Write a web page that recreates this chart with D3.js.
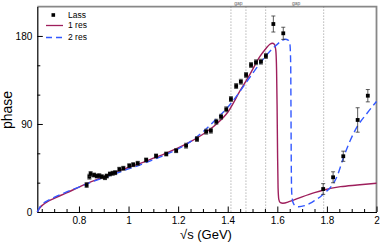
<!DOCTYPE html>
<html>
<head>
<meta charset="utf-8">
<script src="https://cdn.jsdelivr.net/npm/d3@7"></script>
<style>
  body { margin: 0; background: #fff; }
  text { font-family: "Liberation Sans", Arial, sans-serif; }
</style>
</head>
<body>
<div id="chart"></div>
<script>
// Lass data
let lassX = [0.831, 0.842, 0.847, 0.861, 0.872, 0.882, 0.892, 0.905, 0.912, 0.925, 0.936, 0.946,
             0.963, 0.979, 1.003, 1.019, 1.037, 1.071, 1.111, 1.152, 1.192, 1.232, 1.276, 1.313,
             1.332, 1.354, 1.373, 1.394, 1.413, 1.434, 1.453, 1.474, 1.494, 1.514, 1.534, 1.554,
             1.584, 1.624, 1.785, 1.825, 1.866, 1.924, 1.965];
let lassY = [27.6, 36.1, 38.9, 37.8, 36.8, 37.1, 36.1, 35.1, 36.8, 38.9, 39.6, 40.2,
             43.7, 44.7, 47.3, 48.4, 49.8, 53.2, 57.3, 59.3, 62.7, 67.8, 74.6, 82.1,
             83.1, 92.3, 97.4, 105.0, 115.5, 128.8, 133.2, 140.1, 150.3, 153.1, 153.7, 159.5,
             192.2, 182.7, 23.5, 35.5, 57.0, 94.1, 118.9];
let lassErr = [2.5, 2.5, 2.5, 2, 2, 2, 2, 2, 2, 2, 2, 2,
               2, 2, 2, 2, 2, 2, 2, 2, 2, 2.5, 2.5, 2.5,
               2.5, 2.5, 2.5, 2.5, 2.5, 2.5, 2.5, 2.5, 2.5, 2.5, 2.5, 2.5,
               8.2, 6.2, 5.5, 5.6, 5.2, 12.5, 6.3];

// 1 resonance fit
let res1X = [0.632, 0.64, 0.655, 0.68, 0.70, 0.75, 0.80, 0.85, 0.90, 0.95, 1.00, 1.05, 1.10, 1.15,
             1.20, 1.25, 1.30, 1.35, 1.40, 1.45, 1.49, 1.53, 1.555, 1.57, 1.58, 1.588, 1.594,
             1.597, 1.599, 1.601, 1.603, 1.606, 1.612, 1.622, 1.65, 1.70, 1.75, 1.787, 1.855,
             1.922, 2.0];
let res1Y = [0, 3.5, 7.5, 11.5, 14, 19.5, 25.5, 31, 36, 41, 45.5, 50, 55, 60,
             65.5, 72, 79.5, 89, 102, 124, 141, 159, 167.5, 171.5, 172.5, 171.5, 165,
             145, 110, 60, 25, 13, 9.5, 9, 10.8, 15.5, 19.8, 22.5, 25.9,
             27.6, 29.4];

// 2 resonance fit
let res2X = [0.632, 0.64, 0.655, 0.68, 0.70, 0.75, 0.80, 0.85, 0.90, 0.95, 1.00, 1.05, 1.10, 1.15,
             1.20, 1.25, 1.30, 1.35, 1.40, 1.44, 1.49, 1.53, 1.562, 1.589, 1.612, 1.632, 1.645,
             1.651, 1.654, 1.655, 1.656, 1.658, 1.663, 1.673, 1.686, 1.71, 1.733, 1.755, 1.774,
             1.795, 1.814, 1.841, 1.868, 1.895, 1.922, 1.962, 2.0];
let res2Y = [0, 4, 8.5, 12.5, 15, 20.5, 25.5, 30.5, 35, 39.5, 44, 48.5, 53.5, 58.5,
             64.5, 72, 82, 94, 107, 120, 138, 152, 162, 169, 174, 176.6, 175.5,
             171, 150, 110, 60, 20, 10, 6.2, 5.4, 6.5, 9, 12.5, 15.6,
             20.5, 25, 36.5, 56.5, 73.6, 87.2, 101, 113];

// vertical dotted markers and the "gap" labels
let markerX = [1.413, 1.4735, 1.553, 1.787];
let gapLabels = [{text: "gap", x: 1.443}, {text: "gap", x: 1.676}];

let xTicks = [0.8, 1.0, 1.2, 1.4, 1.6, 1.8, 2.0];
let yTicks = [0, 90, 180];

let width = 382, height = 251;
let margin = {top: 6.6, right: 5.5, bottom: 39, left: 37.3};

let svg = d3.select("#chart").append("svg")
    .attr("width", width)
    .attr("height", height);

let x = d3.scaleLinear().domain([0.632, 2.0]).range([margin.left, width - margin.right]);
let y = d3.scaleLinear().domain([0, 210]).range([height - margin.bottom, margin.top]);

let crimson = "#9e1f5c";
let blue = "#3358ff";

// frame: top and right in grey
svg.append("path")
    .attr("d", "M" + x(0.632) + "," + y(210) + "H" + x(2.0) + "V" + y(0))
    .attr("fill", "none")
    .attr("stroke", "#888")
    .attr("stroke-width", 1.8);

// dotted markers
svg.selectAll(".marker")
    .data(markerX)
    .enter()
    .append("line")
    .attr("class", "marker")
    .attr("x1", function(d) { return x(d); })
    .attr("x2", function(d) { return x(d); })
    .attr("y1", y(210))
    .attr("y2", y(0))
    .attr("stroke", "#777")
    .attr("stroke-width", 0.8)
    .attr("stroke-dasharray", "1,2");

svg.selectAll(".gap")
    .data(gapLabels)
    .enter()
    .append("text")
    .attr("x", function(d) { return x(d.x); })
    .attr("y", 5)
    .attr("text-anchor", "middle")
    .attr("font-size", 5)
    .attr("fill", "#666")
    .text(function(d) { return d.text; });

// axes (ticks pointing inward)
let xAxis = svg.append("g")
    .attr("transform", "translate(0," + y(0) + ")")
    .call(d3.axisBottom(x).tickValues(xTicks).tickSizeInner(-5.5).tickSizeOuter(0)
        .tickPadding(5).tickFormat(function(d) { return d3.format("")(+d.toFixed(1)); }));
xAxis.selectAll("text").attr("font-size", 10).attr("fill", "#000");

let xMinor = d3.range(0.65, 2.0, 0.05).filter(function(d) {
    return xTicks.every(function(t) { return Math.abs(t - d) > 1e-6; });
});
svg.append("g")
    .attr("transform", "translate(0," + y(0) + ")")
    .call(d3.axisBottom(x).tickValues(xMinor).tickSizeInner(-3).tickSizeOuter(0).tickFormat(""))
    .select(".domain").remove();

let yAxis = svg.append("g")
    .attr("transform", "translate(" + x(0.632) + ",0)")
    .call(d3.axisLeft(y).tickValues(yTicks).tickSizeInner(-5.5).tickSizeOuter(0).tickPadding(5));
yAxis.selectAll("text").attr("font-size", 10).attr("fill", "#000");

svg.append("g")
    .attr("transform", "translate(" + x(0.632) + ",0)")
    .call(d3.axisLeft(y).tickValues([30, 60, 120, 150]).tickSizeInner(-3).tickSizeOuter(0).tickFormat(""))
    .select(".domain").remove();

svg.selectAll(".domain").attr("stroke", "#000").attr("stroke-width", 1.2);
svg.selectAll(".tick line").attr("stroke", "#000");

// axis titles
svg.append("text")
    .attr("x", 206)
    .attr("y", 239)
    .attr("text-anchor", "middle")
    .attr("font-size", 13)
    .text("\u221As (GeV)");

svg.append("text")
    .attr("transform", "translate(12,110) rotate(-90)")
    .attr("text-anchor", "middle")
    .attr("font-size", 14)
    .text("phase");

// curves
let line = d3.line()
    .x(function(d) { return x(d[0]); })
    .y(function(d) { return y(d[1]); })
    .curve(d3.curveMonotoneX);

svg.append("path")
    .datum(d3.zip(res1X, res1Y))
    .attr("d", line)
    .attr("fill", "none")
    .attr("stroke", crimson)
    .attr("stroke-width", 1.4);

svg.append("path")
    .datum(d3.zip(res2X, res2Y))
    .attr("d", line)
    .attr("fill", "none")
    .attr("stroke", blue)
    .attr("stroke-width", 1.4)
    .attr("stroke-dasharray", "7,4");

// data points with error bars
let pts = svg.selectAll(".pt")
    .data(d3.zip(lassX, lassY, lassErr))
    .enter()
    .append("g")
    .attr("class", "pt");

pts.append("line")
    .attr("x1", function(d) { return x(d[0]); })
    .attr("x2", function(d) { return x(d[0]); })
    .attr("y1", function(d) { return y(d[1] - d[2]); })
    .attr("y2", function(d) { return y(d[1] + d[2]); })
    .attr("stroke", "#333")
    .attr("stroke-width", 0.8);

[-1, 1].forEach(function(s) {
    pts.append("line")
        .attr("x1", function(d) { return x(d[0]) - 2; })
        .attr("x2", function(d) { return x(d[0]) + 2; })
        .attr("y1", function(d) { return y(d[1] + s * d[2]); })
        .attr("y2", function(d) { return y(d[1] + s * d[2]); })
        .attr("stroke", "#333")
        .attr("stroke-width", 0.8);
});

pts.append("rect")
    .attr("x", function(d) { return x(d[0]) - 1.9; })
    .attr("y", function(d) { return y(d[1]) - 1.9; })
    .attr("width", 3.8)
    .attr("height", 3.8)
    .attr("fill", "#000");

// legend
let legend = svg.append("g");
legend.append("rect")
    .attr("x", 51.5).attr("y", 13.2).attr("width", 3.6).attr("height", 3.6)
    .attr("fill", "#000");
legend.append("line")
    .attr("x1", 46).attr("x2", 63).attr("y1", 25.5).attr("y2", 25.5)
    .attr("stroke", crimson).attr("stroke-width", 1.3);
legend.append("line")
    .attr("x1", 46).attr("x2", 63).attr("y1", 37.5).attr("y2", 37.5)
    .attr("stroke", blue).attr("stroke-width", 1.3).attr("stroke-dasharray", "6,4");
legend.selectAll(".lab")
    .data([["Lass", 15], ["1 res", 25.5], ["2 res", 37.5]])
    .enter()
    .append("text")
    .attr("x", 68)
    .attr("y", function(d) { return d[1]; })
    .attr("dy", "0.35em")
    .attr("font-size", 8.5)
    .text(function(d) { return d[0]; });
</script>
</body>
</html>
